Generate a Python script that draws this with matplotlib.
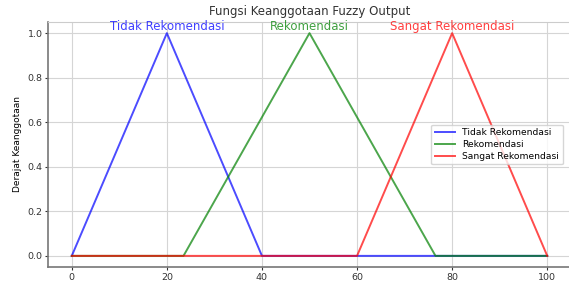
import numpy as np
import matplotlib.pyplot as plt

# fungsi keanggotaan output (trimf)
kategori = ['Tidak Rekomendasi', 'Rekomendasi', 'Sangat Rekomendasi']
titik_a = [0, 23.5, 60]
titik_b = [20, 50, 80]
titik_c = [40, 76.5, 100]
warna = ['b', 'g', 'r']
x_ticks = [0, 20, 40, 60, 80, 100]
y_ticks = [0.0, 0.2, 0.4, 0.6, 0.8, 1.0]


def trimf(x, a, b, c):
    naik = np.where(b > a, (x - a) / max(b - a, 1e-9), 1.0)
    turun = np.where(c > b, (c - x) / max(c - b, 1e-9), 1.0)
    return np.clip(np.minimum(naik, turun), 0, 1)


x = np.unique(np.concatenate([np.linspace(0, 100, 1001), titik_a, titik_b, titik_c]))

fig = plt.figure(figsize=(5.69, 2.84), dpi=100)
ax = fig.add_axes([48 / 569, 17 / 284, 523 / 569, 245 / 284])

for nama, a, b, c, w in zip(kategori, titik_a, titik_b, titik_c, warna):
    ax.plot(x, trimf(x, a, b, c), color=w, alpha=0.7, linewidth=1.4, label=nama)
    ax.text(b, 1.0, nama, color=w, alpha=0.75, fontsize=8.5, ha='center', va='bottom')

ax.set_title('Fungsi Keanggotaan Fuzzy Output', fontsize=8.5, color='#333333', pad=5)
ax.set_ylabel('Derajat Keanggotaan', fontsize=6.5)
ax.set_xticks(x_ticks)
ax.set_yticks(y_ticks)
ax.tick_params(labelsize=6.8, colors='#333333', length=2.5, pad=1.5)
ax.grid(True, color='#d5d5d5', linewidth=0.8)
ax.set_axisbelow(True)
for s in ['left', 'bottom']:
    ax.spines[s].set_color('#777777')
    ax.spines[s].set_linewidth(1.2)
for s in ['top', 'right']:
    ax.spines[s].set_color('#cccccc')
ax.legend(loc='center right', fontsize=6.6, frameon=True, borderaxespad=0.9,
          labelspacing=0.3, handlelength=2.2)

fig.savefig('out.png', dpi=100)
